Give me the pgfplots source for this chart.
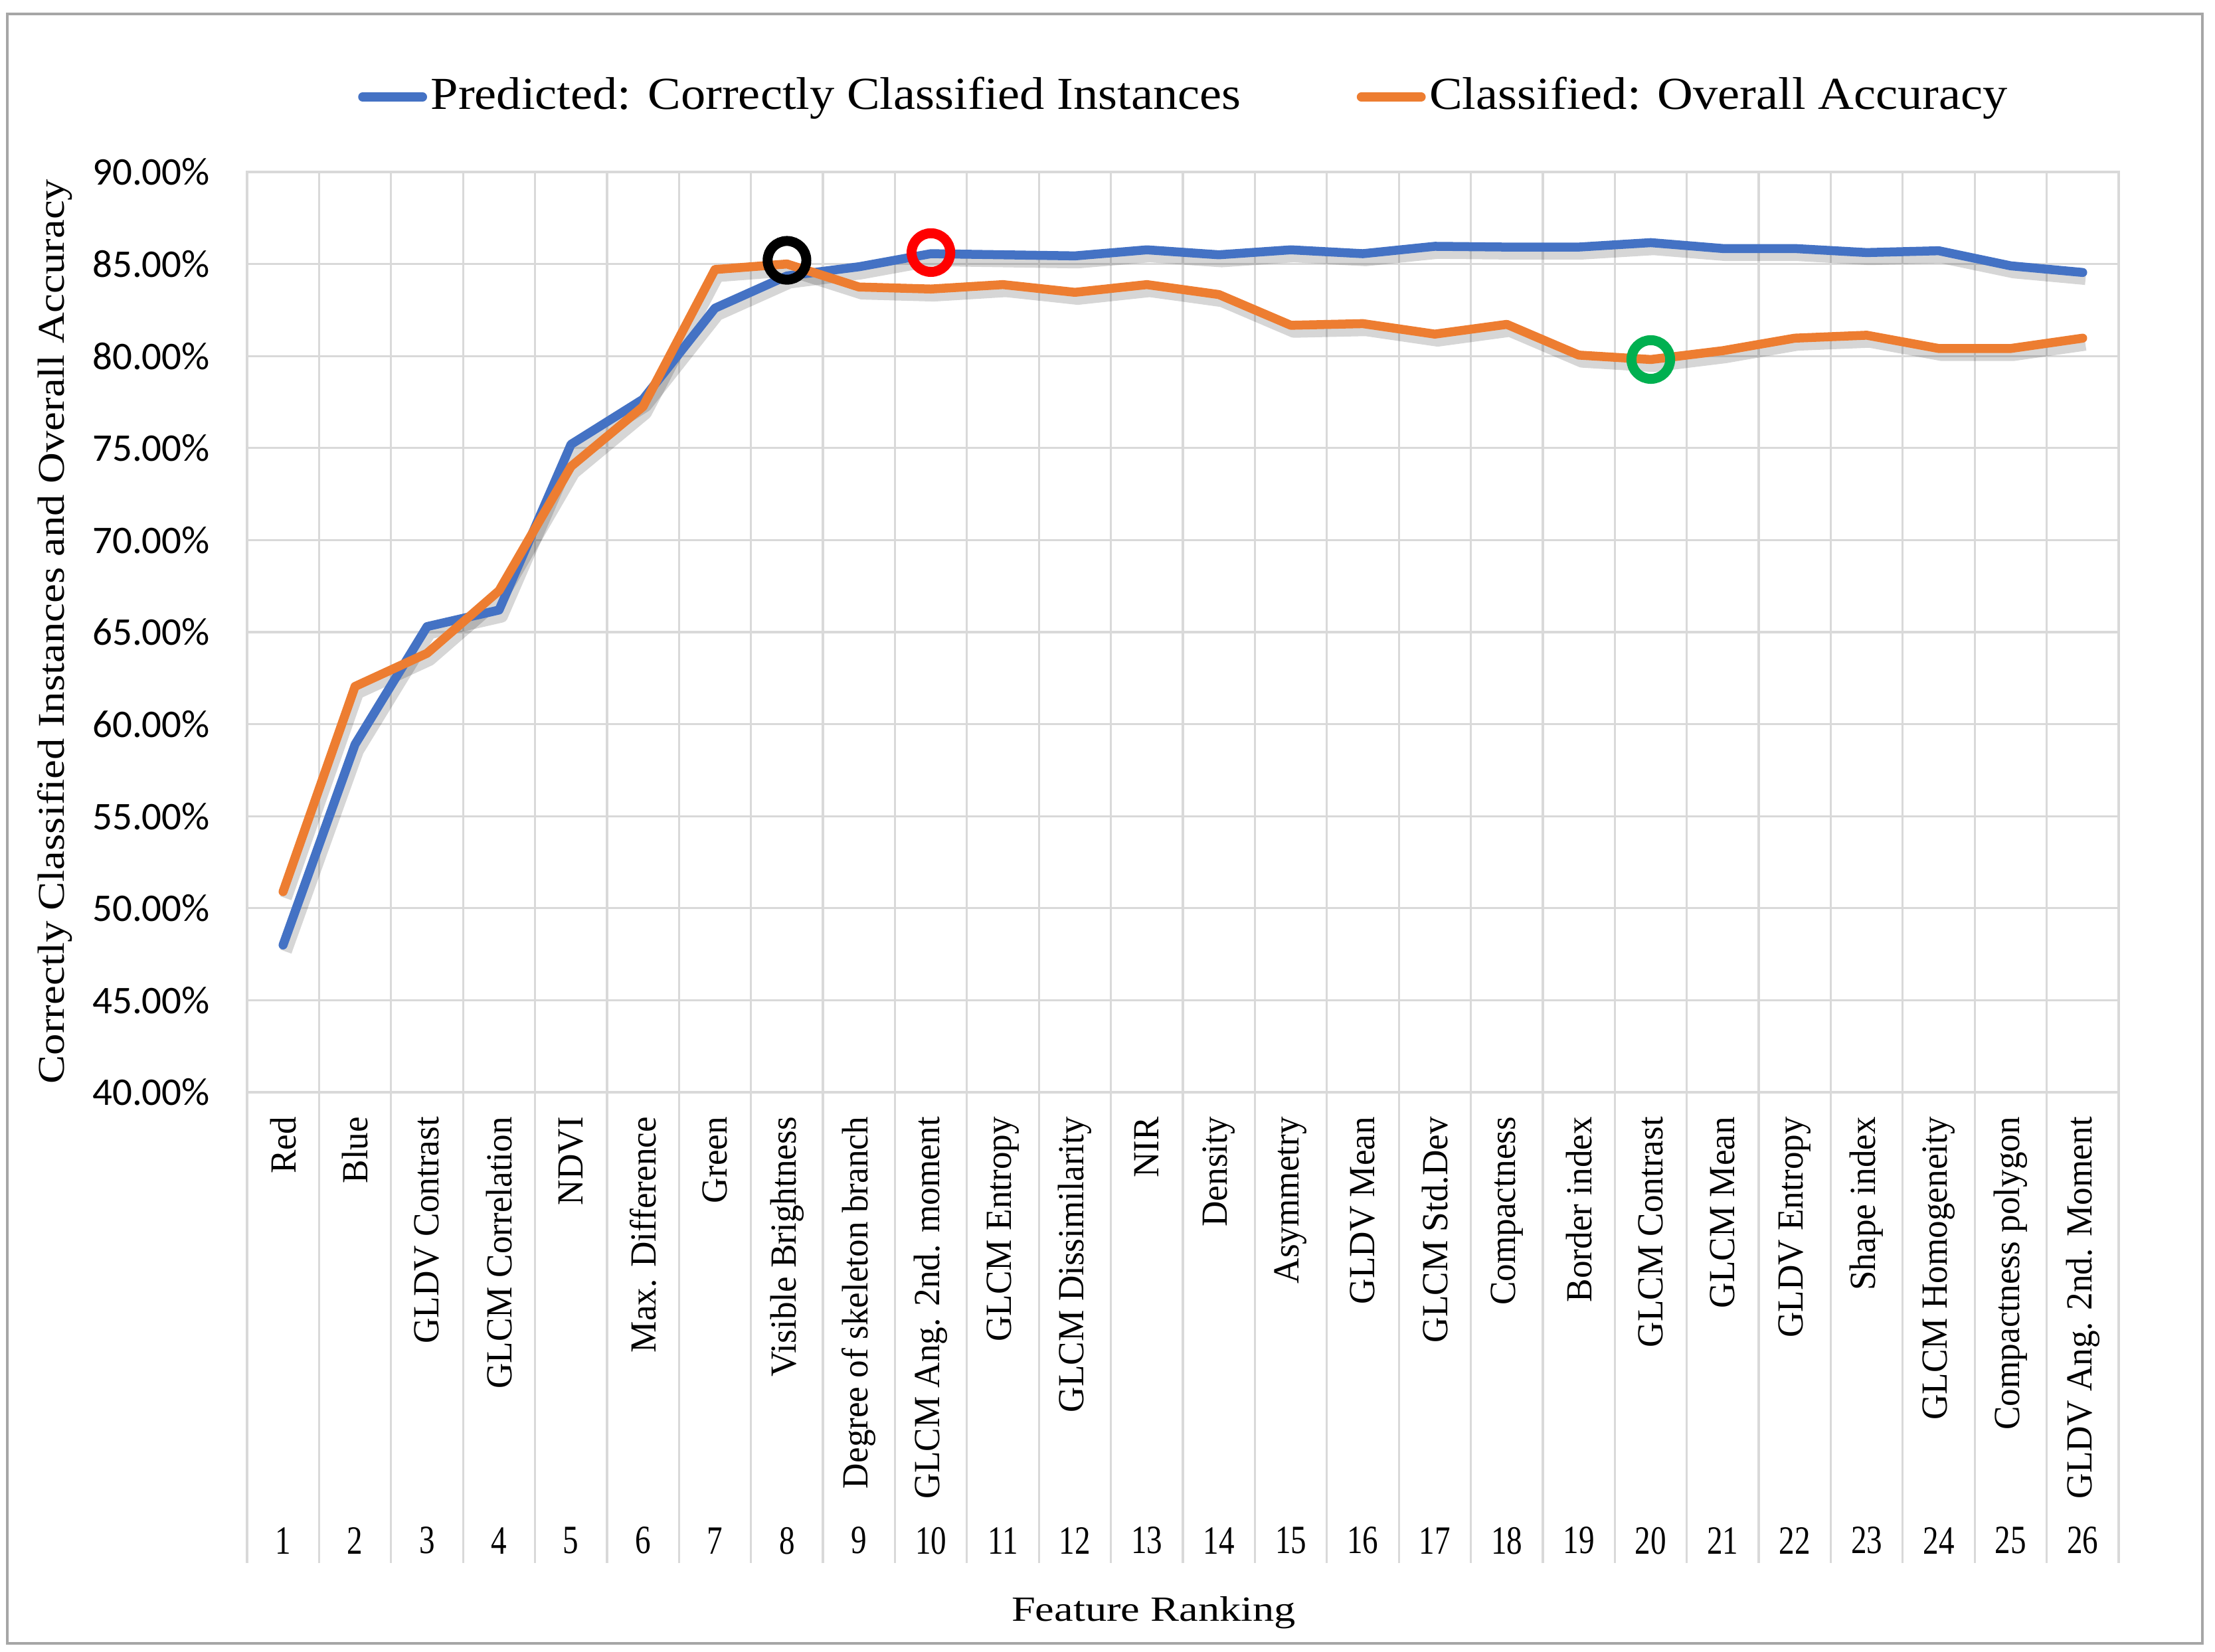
\documentclass[border=0pt]{standalone}
\usepackage{fontspec}
\setmainfont{Liberation Serif}
\newfontfamily\legfont[FakeStretch=1.08]{Liberation Serif}
\newfontfamily\titlefont[FakeStretch=1.21]{Liberation Serif}
\newfontfamily\ylabfont[FakeStretch=1.14]{Liberation Serif}
\newfontfamily\catfont[FakeStretch=0.96]{Liberation Serif}
\newfontfamily\numfont[FakeStretch=0.78]{Liberation Serif}
\newfontfamily\carlito{Carlito}
\usepackage{pgfplots}
\usepackage{pgfplotstable}
\pgfplotsset{compat=1.18}
\definecolor{sblue}{HTML}{4472C4}
\definecolor{sorange}{HTML}{ED7D31}
\definecolor{sgreen}{HTML}{00B050}
\definecolor{sred}{HTML}{FF0000}
\definecolor{gridgray}{HTML}{D9D9D9}
\definecolor{framegray}{HTML}{A6A6A6}

\pgfplotstableread{
x pred class
1  48.00 50.90
2  58.90 62.05
3  65.30 63.85
4  66.20 67.25
5  75.20 74.00
6  77.65 77.25
7  82.60 84.70
8  84.35 85.00
9  84.85 83.75
10 85.56 83.64
11 85.50 83.88
12 85.44 83.46
13 85.77 83.88
14 85.50 83.34
15 85.77 81.67
16 85.56 81.76
17 85.96 81.19
18 85.92 81.72
19 85.92 80.05
20 86.16 79.81
21 85.84 80.29
22 85.84 80.97
23 85.62 81.13
24 85.72 80.41
25 84.90 80.41
26 84.54 80.97
}\datatable

\begin{document}
\begin{tikzpicture}
\path[use as bounding box] (0,0) rectangle (469.2pt,350.04pt);
\draw[framegray, line width=0.65pt] (1.55pt,1.83pt) rectangle (466.5pt,347.1pt);
\begin{axis}[
  at={(52.34pt,118.6pt)}, anchor=south west,
  scale only axis, width=396.46pt, height=195.0pt,
  xmin=0.5, xmax=26.5, ymin=40, ymax=90,
  clip=false,
  axis line style={draw=gridgray, line width=0.45pt},
  major tick length=0pt, minor tick length=0pt,
  ytick={40,45,...,90},
  yticklabels={40.00\%,45.00\%,50.00\%,55.00\%,60.00\%,65.00\%,70.00\%,75.00\%,80.00\%,85.00\%,90.00\%},
  ymajorgrids,
  grid style={gridgray, line width=0.45pt},
  minor xtick={0.5,1.5,...,26.5},
  xminorgrids,
  minor grid style={gridgray, line width=0.45pt},
  xtick={1,...,26},
  xticklabels={Red,Blue,GLDV Contrast,GLCM Correlation,NDVI,Max. Difference,Green,Visible Brightness,Degree of skeleton branch,GLCM Ang. 2nd. moment,GLCM Entropy,GLCM Dissimilarity,NIR,Density,Asymmetry,GLDV Mean,GLCM Std.Dev,Compactness,Border index,GLCM Contrast,GLCM Mean,GLDV Entropy,Shape index,GLCM Homogeneity,Compactness polygon,GLDV Ang. 2nd. Moment},
  every tick label/.append style={inner sep=0pt},
  yticklabel style={font=\carlito\fontsize{8.3}{9.5}\selectfont, anchor=east, xshift=-7.7pt},
  xticklabel style={font=\catfont\fontsize{7.8}{9}\selectfont, yshift=-5pt, rotate=90, anchor=east},
  extra x ticks={1,...,26},
  extra x tick labels={1,2,3,4,5,6,7,8,9,10,11,12,13,14,15,16,17,18,19,20,21,22,23,24,25,26},
  extra x tick style={grid=none, every x tick label/.style={font=\numfont\fontsize{8.5}{10}\selectfont, anchor=center, yshift=-95pt, inner sep=0pt}},
  xlabel={Feature Ranking},
  every axis x label/.style={at={(axis description cs:0.4844,-0.5749)}, anchor=base, font=\titlefont\fontsize{7.5}{9}\selectfont},
  ylabel={Correctly Classified Instances and Overall Accuracy},
  every axis y label/.style={at={(axis description cs:-0.09769,0.5007)}, rotate=90, anchor=base, font=\ylabfont\fontsize{8.0}{9.5}\selectfont},
  legend columns=2,
  legend style={at={(0.5,1.0815)}, anchor=center, draw=none, fill=none, inner sep=0pt, outer sep=0pt,
    font=\legfont\fontsize{9.7}{11}\selectfont, nodes={inner sep=0pt},
    /tikz/every odd column/.append style={column sep=0.8pt},
    /tikz/every even column/.append style={column sep=24.5pt}},
  legend image code/.code={\draw[#1, line cap=round] (0.95pt,0pt) -- (13.65pt,0pt);},
]
\pgfplotsinvokeforeach{0,...,26}{\draw[gridgray, line width=0.45pt] (axis cs:#1.5,40) -- ++(0pt,-99.75pt);}
\addplot[forget plot, black, opacity=0.16, line width=2.5pt, line join=round, xshift=0.6pt, yshift=-1.4pt] table[x=x,y=pred]{\datatable};
\addplot[forget plot, black, opacity=0.16, line width=2.5pt, line join=round, xshift=0.6pt, yshift=-1.4pt] table[x=x,y=class]{\datatable};
\addplot[sblue, line width=1.9pt, line join=round, line cap=round] table[x=x,y=pred]{\datatable};
\addlegendentry{Predicted: Correctly Classified Instances}
\addplot[sorange, line width=1.9pt, line join=round, line cap=round] table[x=x,y=class]{\datatable};
\addlegendentry{Classified: Overall Accuracy}
\addplot[forget plot, only marks, mark=o, mark size=4.1pt, mark options={draw=black, line width=2.1pt}] coordinates {(8,85.2)};
\addplot[forget plot, only marks, mark=o, mark size=4.1pt, mark options={draw=sred, line width=2.1pt}] coordinates {(10,85.62)};
\addplot[forget plot, only marks, mark=o, mark size=4.1pt, mark options={draw=sgreen, line width=2.1pt}] coordinates {(20,79.81)};
\end{axis}
\end{tikzpicture}
\end{document}
